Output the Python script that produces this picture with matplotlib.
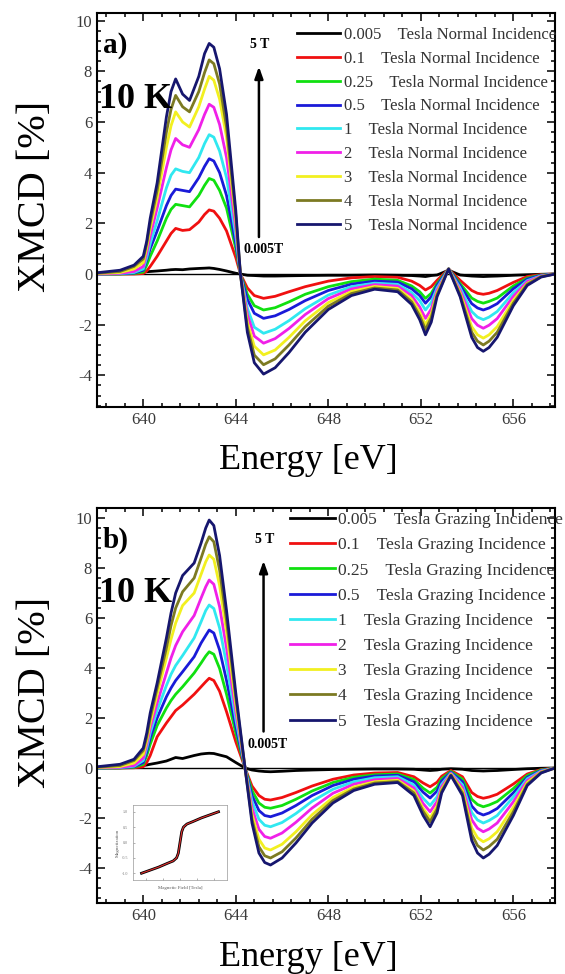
import numpy as np
import matplotlib
matplotlib.use("Agg")
import matplotlib.pyplot as plt
from matplotlib.ticker import MultipleLocator, AutoMinorLocator

plt.rcParams.update({"font.family": ["Liberation Serif", "DejaVu Serif"],
                     "axes.unicode_minus": False})

# ---- data ------------------------------------------------------------------
fields = ["0.005", "0.1", "0.25", "0.5", "1", "2", "3", "4", "5"]
colors = ["#000000", "#f01010", "#10e010", "#1a1ad8", "#30e8f0",
          "#f020e8", "#f2f020", "#7c7a22", "#16166e"]

# (a) normal incidence
energy_a = [638.0, 639.0, 639.6, 640.0, 640.15, 640.3, 640.6, 641.0, 641.2, 641.4,
            641.7, 642.0, 642.4, 642.65, 642.85, 643.05, 643.3, 643.6, 644.0, 644.2,
            644.5, 644.8, 645.2, 645.7, 646.3, 647.0, 648.0, 649.0, 650.0, 651.0,
            651.6, 651.95, 652.2, 652.45, 652.7, 653.2, 653.7, 654.2, 654.45, 654.7,
            654.95, 655.3, 656.0, 656.6, 657.2, 657.8]
xmcd_a = [
    [0.0, 0.03, 0.05, 0.08, 0.09, 0.1, 0.12, 0.15, 0.17, 0.18,
     0.17, 0.2, 0.22, 0.23, 0.24, 0.22, 0.18, 0.12, 0.03, 0.0,
     -0.05, -0.06, -0.08, -0.08, -0.07, -0.06, -0.05, -0.05, -0.04, -0.05,
     -0.06, -0.08, -0.1, -0.06, -0.04, 0.15, -0.04, -0.08, -0.09, -0.1,
     -0.09, -0.08, -0.05, -0.03, -0.01, 0.0],
    [0.0, 0.0, 0.0, 0.02, 0.12, 0.3, 0.7, 1.3, 1.6, 1.8,
     1.72, 1.75, 2.05, 2.35, 2.53, 2.48, 2.2, 1.7, 0.65, 0.0,
     -0.55, -0.85, -0.96, -0.88, -0.7, -0.5, -0.28, -0.15, -0.1, -0.13,
     -0.28, -0.45, -0.63, -0.5, -0.25, 0.2, -0.25, -0.65, -0.76, -0.8,
     -0.76, -0.65, -0.33, -0.1, -0.02, 0.0],
    [0.0, 0.0, 0.02, 0.08, 0.35, 0.7, 1.3, 2.2, 2.55, 2.75,
     2.7, 2.65, 3.1, 3.5, 3.77, 3.7, 3.3, 2.6, 1.0, 0.0,
     -0.8, -1.25, -1.42, -1.33, -1.1, -0.8, -0.5, -0.3, -0.2, -0.25,
     -0.47, -0.7, -0.96, -0.76, -0.38, 0.2, -0.38, -0.95, -1.08, -1.15,
     -1.08, -0.95, -0.47, -0.16, -0.04, 0.0],
    [0.0, 0.01, 0.04, 0.15, 0.55, 1.0, 1.7, 2.7, 3.1, 3.35,
     3.3, 3.25, 3.8, 4.25, 4.55, 4.46, 4.0, 3.1, 1.2, 0.0,
     -1.0, -1.55, -1.75, -1.65, -1.4, -1.05, -0.65, -0.4, -0.28, -0.32,
     -0.58, -0.85, -1.15, -0.9, -0.45, 0.2, -0.45, -1.17, -1.34, -1.42,
     -1.34, -1.17, -0.58, -0.2, -0.05, 0.0],
    [0.0, 0.02, 0.06, 0.2, 0.65, 1.2, 2.1, 3.4, 3.9, 4.15,
     4.05, 4.0, 4.6, 5.15, 5.5, 5.4, 4.85, 3.8, 1.5, 0.0,
     -1.35, -2.1, -2.34, -2.18, -1.84, -1.37, -0.83, -0.5, -0.36, -0.41,
     -0.73, -1.05, -1.42, -1.12, -0.55, 0.2, -0.55, -1.48, -1.7, -1.8,
     -1.7, -1.48, -0.74, -0.26, -0.07, 0.0],
    [0.0, 0.03, 0.1, 0.3, 0.85, 1.5, 2.6, 4.2, 4.9, 5.35,
     5.1, 5.0, 5.7, 6.3, 6.7, 6.58, 5.9, 4.6, 1.8, 0.0,
     -1.6, -2.45, -2.73, -2.55, -2.15, -1.6, -0.97, -0.59, -0.42, -0.48,
     -0.85, -1.3, -1.75, -1.38, -0.65, 0.2, -0.65, -1.76, -2.02, -2.14,
     -2.02, -1.76, -0.88, -0.3, -0.08, 0.0],
    [0.02, 0.06, 0.2, 0.45, 1.05, 1.8, 3.0, 5.0, 5.85, 6.4,
     6.0, 5.8, 6.6, 7.3, 7.8, 7.65, 6.9, 5.4, 2.1, 0.0,
     -1.9, -2.85, -3.19, -3.0, -2.5, -1.85, -1.13, -0.69, -0.49, -0.57,
     -1.0, -1.5, -2.0, -1.58, -0.75, 0.2, -0.75, -2.08, -2.4, -2.53,
     -2.4, -2.08, -1.04, -0.37, -0.1, 0.0],
    [0.03, 0.1, 0.3, 0.6, 1.2, 2.0, 3.3, 5.6, 6.5, 7.05,
     6.6, 6.4, 7.2, 7.95, 8.45, 8.3, 7.5, 5.8, 2.3, 0.0,
     -2.1, -3.2, -3.58, -3.35, -2.8, -2.08, -1.27, -0.77, -0.55, -0.63,
     -1.1, -1.65, -2.2, -1.72, -0.82, 0.2, -0.82, -2.3, -2.65, -2.8,
     -2.65, -2.3, -1.15, -0.4, -0.1, 0.0],
    [0.05, 0.15, 0.35, 0.7, 1.3, 2.2, 3.6, 6.2, 7.2, 7.7,
     7.1, 6.85, 7.8, 8.7, 9.1, 8.95, 8.1, 6.3, 2.5, 0.0,
     -2.3, -3.5, -3.95, -3.7, -3.1, -2.3, -1.4, -0.85, -0.6, -0.7,
     -1.2, -1.8, -2.4, -1.9, -0.9, 0.2, -0.9, -2.5, -2.9, -3.05,
     -2.9, -2.5, -1.25, -0.45, -0.12, 0.0],
]

# (b) grazing incidence
energy_b = [638.0, 639.0, 639.6, 640.0, 640.15, 640.3, 640.6, 641.0, 641.2, 641.4,
            641.7, 642.2, 642.5, 642.7, 642.85, 643.05, 643.3, 643.6, 644.0, 644.4,
            644.7, 645.0, 645.25, 645.5, 646.0, 646.6, 647.3, 648.2, 649.1, 650.0,
            651.0, 651.7, 652.1, 652.4, 652.7, 652.9, 653.3, 653.8, 654.2, 654.45,
            654.7, 654.95, 655.3, 656.0, 656.6, 657.2, 657.8]
xmcd_b = [
    [0.0, 0.03, 0.06, 0.1, 0.12, 0.15, 0.2, 0.28, 0.35, 0.42,
     0.38, 0.5, 0.56, 0.58, 0.59, 0.58, 0.52, 0.45, 0.22, 0.0,
     -0.08, -0.12, -0.14, -0.15, -0.13, -0.1, -0.08, -0.06, -0.05, -0.04,
     -0.04, -0.05, -0.08, -0.1, -0.08, -0.05, -0.03, -0.05, -0.1, -0.11,
     -0.12, -0.11, -0.1, -0.06, -0.03, -0.01, 0.0],
    [0.0, 0.0, 0.01, 0.05, 0.22, 0.5, 1.25, 1.8, 2.05, 2.3,
     2.52, 2.95, 3.25, 3.45, 3.59, 3.5, 3.07, 2.25, 1.05, 0.0,
     -0.72, -1.1, -1.25, -1.28, -1.18, -0.98, -0.72, -0.45, -0.28, -0.2,
     -0.18, -0.35, -0.6, -0.75, -0.57, -0.33, -0.1, -0.35, -0.98, -1.14,
     -1.21, -1.16, -1.05, -0.64, -0.24, -0.06, 0.0],
    [0.0, 0.0, 0.03, 0.15, 0.5, 0.95, 1.7, 2.4, 2.7, 2.95,
     3.25, 3.8, 4.2, 4.48, 4.65, 4.55, 3.98, 2.95, 1.4, 0.0,
     -0.9, -1.4, -1.57, -1.61, -1.5, -1.25, -0.92, -0.58, -0.37, -0.27,
     -0.24, -0.46, -0.81, -1.0, -0.77, -0.43, -0.14, -0.45, -1.25, -1.46,
     -1.55, -1.48, -1.34, -0.82, -0.3, -0.08, 0.0],
    [0.0, 0.01, 0.05, 0.22, 0.65, 1.2, 2.0, 2.85, 3.2, 3.5,
     3.85, 4.45, 5.0, 5.3, 5.52, 5.4, 4.72, 3.5, 1.65, 0.0,
     -1.1, -1.7, -1.9, -1.95, -1.8, -1.5, -1.1, -0.7, -0.45, -0.32,
     -0.29, -0.55, -0.97, -1.2, -0.92, -0.52, -0.17, -0.55, -1.52, -1.78,
     -1.88, -1.8, -1.62, -0.99, -0.37, -0.1, 0.0],
    [0.0, 0.02, 0.07, 0.3, 0.8, 1.4, 2.3, 3.3, 3.75, 4.1,
     4.5, 5.2, 5.85, 6.3, 6.52, 6.38, 5.6, 4.15, 1.95, 0.0,
     -1.33, -2.05, -2.29, -2.35, -2.18, -1.82, -1.33, -0.85, -0.55, -0.39,
     -0.35, -0.68, -1.21, -1.5, -1.15, -0.65, -0.2, -0.67, -1.78, -2.08,
     -2.2, -2.1, -1.9, -1.16, -0.43, -0.12, 0.0],
    [0.01, 0.03, 0.1, 0.4, 0.95, 1.6, 2.6, 3.8, 4.4, 4.9,
     5.45, 6.1, 6.8, 7.25, 7.52, 7.35, 6.45, 4.8, 2.25, 0.0,
     -1.6, -2.45, -2.74, -2.81, -2.6, -2.17, -1.6, -1.01, -0.65, -0.47,
     -0.42, -0.8, -1.42, -1.75, -1.34, -0.75, -0.22, -0.78, -2.07, -2.41,
     -2.55, -2.44, -2.2, -1.35, -0.5, -0.14, 0.0],
    [0.02, 0.06, 0.2, 0.55, 1.1, 1.8, 2.95, 4.4, 5.15, 5.8,
     6.5, 7.0, 7.75, 8.25, 8.52, 8.35, 7.3, 5.45, 2.55, 0.0,
     -1.85, -2.85, -3.2, -3.28, -3.05, -2.55, -1.87, -1.18, -0.76, -0.55,
     -0.49, -0.92, -1.62, -2.0, -1.53, -0.85, -0.25, -0.9, -2.4, -2.79,
     -2.95, -2.83, -2.55, -1.57, -0.58, -0.16, 0.0],
    [0.03, 0.1, 0.3, 0.7, 1.25, 2.0, 3.2, 4.8, 5.7, 6.4,
     7.05, 7.6, 8.4, 8.95, 9.25, 9.05, 7.92, 5.9, 2.8, 0.0,
     -2.05, -3.15, -3.51, -3.6, -3.35, -2.8, -2.05, -1.3, -0.84, -0.6,
     -0.54, -1.0, -1.74, -2.15, -1.65, -0.92, -0.28, -1.0, -2.65, -3.1,
     -3.28, -3.14, -2.85, -1.75, -0.65, -0.18, 0.0],
    [0.05, 0.15, 0.35, 0.8, 1.4, 2.2, 3.4, 5.2, 6.2, 7.0,
     7.7, 8.2, 9.0, 9.6, 9.92, 9.7, 8.5, 6.3, 3.0, 0.0,
     -2.2, -3.4, -3.78, -3.88, -3.6, -3.0, -2.2, -1.4, -0.9, -0.65,
     -0.58, -1.1, -1.9, -2.35, -1.8, -1.0, -0.3, -1.1, -2.9, -3.4,
     -3.6, -3.45, -3.1, -1.9, -0.7, -0.2, 0.0],
]

# inset: magnetisation loop
inset_field = [-4.5, -3.5, -2.5, -1.5, -0.8, -0.4, -0.2, 0.0, 0.2, 0.4, 0.8, 1.5, 2.5, 3.5, 4.5]
inset_mag = [-1.0, -0.9, -0.8, -0.68, -0.6, -0.5, -0.35, 0.0, 0.35, 0.5, 0.6, 0.68, 0.8, 0.9, 1.0]


def panel(ax, energy, curves, geometry, tag, ylim, arrow, low_x,
          leg_anchor, leg_spacing, leg_fs):
    ax.axhline(0, color="k", lw=1.0, zorder=1)
    for f, c, y in zip(fields, colors, curves):
        ax.plot(energy, y, color=c, lw=2.0, solid_joinstyle="round",
                label=f"{f}    Tesla {geometry} Incidence", zorder=2)
    ax.set_xlim(638, 657.8)
    ax.set_ylim(*ylim)
    ax.xaxis.set_major_locator(MultipleLocator(4))
    ax.xaxis.set_minor_locator(AutoMinorLocator(5))
    ax.yaxis.set_major_locator(MultipleLocator(2))
    ax.yaxis.set_minor_locator(AutoMinorLocator(5))
    ax.tick_params(which="both", direction="in", top=True, right=True,
                   labelsize=12, labelcolor="#3a3a3a", width=1.1)
    ax.tick_params(which="major", length=6)
    ax.tick_params(which="minor", length=3)
    for s in ax.spines.values():
        s.set_linewidth(1.5)
    ax.set_xlabel("Energy [eV]", fontsize=26)
    ax.set_ylabel("XMCD [%]", fontsize=29)
    ax.xaxis.set_label_coords(0.461, -0.095)
    ax.yaxis.set_label_coords(-0.095, 0.534)

    ax.text(638.25, ylim[1] - 1.3, tag, fontsize=21, fontweight="bold", va="center")
    ax.text(638.1, ylim[1] - 3.4, "10 K", fontsize=26, fontweight="bold", va="center")
    ax.annotate("", xy=(arrow, ylim[1] - 2.0), xytext=(arrow, 1.35),
                arrowprops=dict(arrowstyle="-|>,head_width=0.25,head_length=0.7",
                                color="k", lw=1.8))
    ax.text(arrow + 0.05, ylim[1] - 1.25, "5 T", fontsize=10, fontweight="bold",
            ha="center", va="center")
    ax.text(low_x, 0.95, "0.005T", fontsize=10, fontweight="bold", va="center")

    ax.legend(loc="upper left", bbox_to_anchor=leg_anchor, frameon=False,
              fontsize=leg_fs, handlelength=2.6, handletextpad=0.2,
              labelspacing=leg_spacing, borderpad=0, borderaxespad=0,
              labelcolor="#333333")


fig = plt.figure(figsize=(5.65, 9.74), dpi=100)
ax_a = fig.add_axes([0.1717, 0.5821, 0.8106, 0.4045])
ax_b = fig.add_axes([0.1717, 0.0729, 0.8106, 0.4055])

panel(ax_a, energy_a, xmcd_a, "Normal", "a)", (-5.25, 10.3), 645.0, 644.32,
      (0.437, 0.965), 0.47, 12)
panel(ax_b, energy_b, xmcd_b, "Grazing", "b)", (-5.4, 10.4), 645.2, 644.5,
      (0.421, 0.99), 0.52, 12.5)

# inset in panel (b)
ins = fig.add_axes([0.2354, 0.0965, 0.1664, 0.077])
ins.plot(inset_field, inset_mag, color="k", lw=2.0)
ins.plot(inset_field, inset_mag, color="#e03030", lw=0.8)
ins.set_xlim(-5.5, 5.5)
ins.set_ylim(-1.22, 1.22)
ins.tick_params(labelsize=3, length=1.5, width=0.4, direction="in", colors="#777777")
ins.set_xticks([-4, -2, 0, 2, 4])
ins.set_yticks([-1, -0.5, 0, 0.5, 1])
ins.set_xticklabels([])
ins.set_xlabel("Magnetic Field [Tesla]", fontsize=3.5, labelpad=1, color="#555555")
ins.set_ylabel("Magnetization", fontsize=3.5, labelpad=1, color="#555555")
for s in ins.spines.values():
    s.set_linewidth(0.5)
    s.set_color("#999999")

fig.savefig("out.png", dpi=100, facecolor="white")
